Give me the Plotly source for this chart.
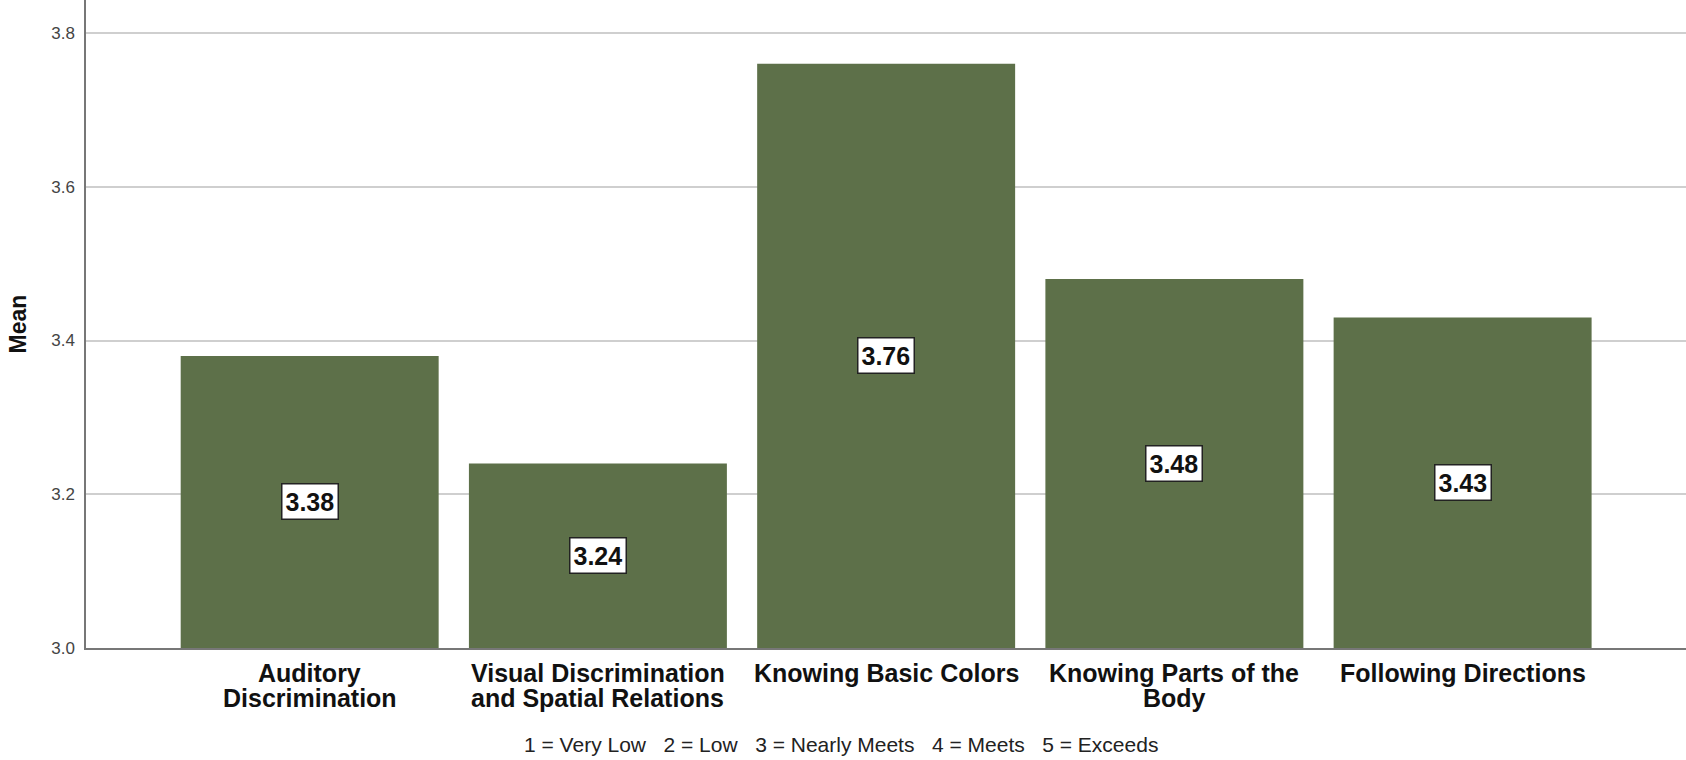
import plotly.graph_objects as go

categories = [
    "Auditory<br>Discrimination",
    "Visual Discrimination<br>and Spatial Relations",
    "Knowing Basic Colors",
    "Knowing Parts of the<br>Body",
    "Following Directions",
]
means = [3.38, 3.24, 3.76, 3.48, 3.43]
y_ticks = [3.0, 3.2, 3.4, 3.6, 3.8]
y_base = 3.0
note = "1 = Very Low   2 = Low   3 = Nearly Meets   4 = Meets   5 = Exceeds"

FONT = "Liberation Sans, Arial, sans-serif"
BAR = "#5d7049"

fig = go.Figure()
fig.add_trace(go.Bar(
    x=list(range(len(categories))),
    y=[m - y_base for m in means],
    base=y_base,
    marker=dict(color=BAR, line=dict(width=0)),
    hoverinfo="skip",
))

for i, m in enumerate(means):
    fig.add_annotation(
        x=i, y=(y_base + m) / 2, xref="x", yref="y",
        text=f"<b>{m:.2f}</b>", showarrow=False,
        font=dict(family=FONT, size=25, color="#111"),
        bgcolor="white", bordercolor="#222", borderwidth=1.5, borderpad=3,
    )

# category labels (tight line spacing like the reference)
for i, c in enumerate(categories):
    for j, line in enumerate(c.split("<br>")):
        fig.add_annotation(
            x=i, y=0, xref="x", yref="paper", yanchor="middle",
            yshift=-25 - 25 * j, text=f"<b>{line}</b>", showarrow=False,
            font=dict(family=FONT, size=25, color="#111"),
        )

fig.add_annotation(
    x=(841 - 86) / 1600, y=(648 - 744) / 648, xref="paper", yref="paper",
    text=note, showarrow=False, yanchor="middle",
    font=dict(family=FONT, size=21, color="#222"),
)

fig.update_layout(
    width=1686, height=760,
    margin=dict(l=86, r=0, t=0, b=112, autoexpand=False),
    plot_bgcolor="white", paper_bgcolor="white",
    bargap=0.105, showlegend=False,
    font=dict(family=FONT),
)
fig.update_xaxes(
    range=[-0.776, 4.775],
    tickmode="array", tickvals=list(range(len(categories))), showticklabels=False,
    showgrid=False, showline=True, linecolor="#777", linewidth=1.5,
    ticks="", zeroline=False,
)
fig.update_yaxes(
    range=[3.0, 3.843],
    tickmode="array", tickvals=y_ticks, ticktext=[f"{t:.1f}" for t in y_ticks],
    tickfont=dict(family=FONT, size=17, color="#444"),
    showgrid=True, gridcolor="#cfcfcf", gridwidth=2,
    showline=True, linecolor="#777", linewidth=1.5,
    ticks="", zeroline=False, ticklabelstandoff=6, automargin=False,
    title=dict(text="<b>Mean</b>", font=dict(family=FONT, size=23, color="#111"), standoff=18),
)

fig.write_html(
    "out.html",
    config={"displayModeBar": False},
    post_script="document.body.style.margin='0';document.body.style.overflow='hidden';",
)
